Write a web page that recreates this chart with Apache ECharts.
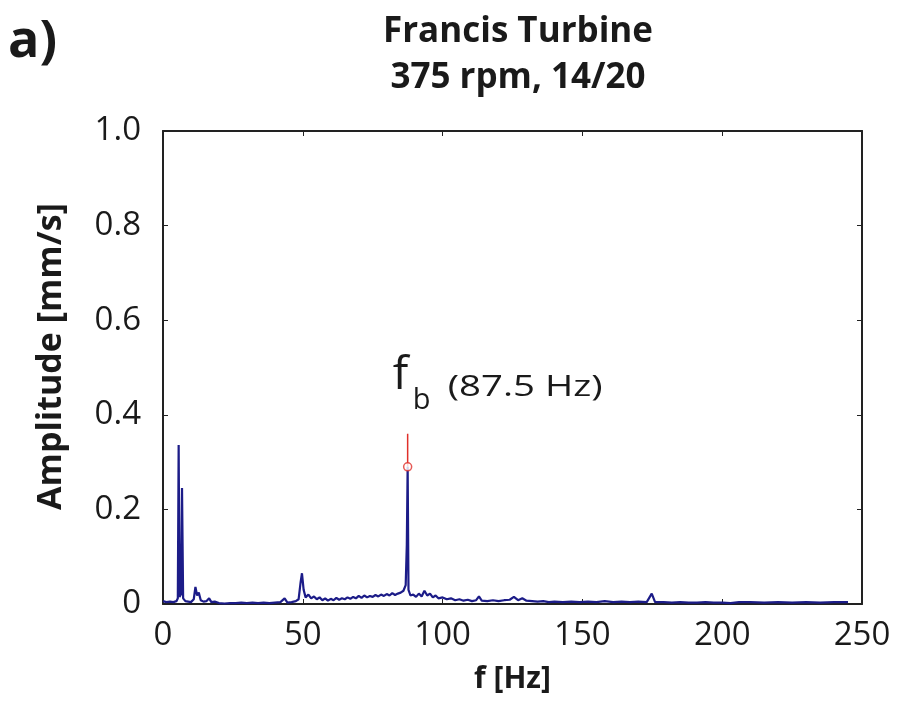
<!DOCTYPE html>
<html>
<head>
<meta charset="utf-8">
<script src="https://cdn.jsdelivr.net/npm/echarts@6/dist/echarts.min.js"></script>
<style>
  html, body { margin: 0; padding: 0; background: #fff; }
  #chart { width: 909px; height: 709px; }
</style>
</head>
<body>
<div id="chart"></div>
<script>
// spectrum
const freqs = [0, 1.2, 2.5, 3.7, 4.8, 5.3, 5.6, 5.9, 6.4, 6.8, 7.2, 8, 9, 10, 11, 11.6, 12.2, 12.8, 13.5, 14.5,
  15.5, 16.5, 17.3, 18.5, 20, 22, 24, 26, 28, 30, 32, 34, 36, 38, 40, 42, 43.5, 44.5, 46, 47.5,
  48.5, 49.2, 49.7, 50.3, 51, 52, 53, 54, 55, 56, 57, 58, 59, 60, 61, 62, 63, 64, 65, 66,
  67, 68, 69, 70, 71, 72, 73, 74, 75, 76, 77, 78, 79, 80, 81, 82, 83, 84, 85, 86,
  86.8, 87.2, 87.5, 87.8, 88.5, 89.5, 90.5, 91.5, 92.5, 93.5, 94.5, 95.5, 96.5, 97.5, 98.5, 100, 101.5, 103, 104.5, 106,
  107.5, 109, 110.5, 112, 113, 114, 116, 118, 120, 122, 124, 125.5, 127, 128.5, 130, 132, 134, 136, 138, 140,
  143, 146, 149, 152, 155, 158, 161, 164, 167, 170, 173, 174.8, 176, 179, 182, 185, 188, 191, 194, 197,
  200, 203, 206, 210, 215, 220, 225, 230, 235, 240, 245];
const amps = [0.006, 0.004, 0.005, 0.004, 0.006, 0.012, 0.336, 0.015, 0.020, 0.245, 0.012, 0.006, 0.005, 0.004, 0.010, 0.036, 0.018, 0.024, 0.008, 0.005,
  0.006, 0.012, 0.004, 0.005, 0.002, 0.001, 0.002, 0.002, 0.003, 0.002, 0.003, 0.002, 0.003, 0.002, 0.003, 0.004, 0.012, 0.003, 0.004, 0.006,
  0.010, 0.045, 0.065, 0.030, 0.014, 0.020, 0.012, 0.016, 0.010, 0.014, 0.008, 0.012, 0.007, 0.011, 0.008, 0.013, 0.009, 0.012, 0.010, 0.014,
  0.011, 0.015, 0.012, 0.017, 0.013, 0.018, 0.014, 0.017, 0.015, 0.019, 0.016, 0.020, 0.017, 0.021, 0.018, 0.023, 0.019, 0.022, 0.024, 0.028,
  0.040, 0.125, 0.290, 0.030, 0.018, 0.020, 0.015, 0.022, 0.016, 0.028, 0.018, 0.022, 0.014, 0.018, 0.012, 0.014, 0.010, 0.012, 0.008, 0.010,
  0.007, 0.009, 0.006, 0.008, 0.016, 0.007, 0.006, 0.008, 0.006, 0.008, 0.009, 0.015, 0.008, 0.012, 0.007, 0.006, 0.005, 0.006, 0.004, 0.005,
  0.004, 0.005, 0.004, 0.005, 0.004, 0.006, 0.004, 0.005, 0.004, 0.005, 0.004, 0.022, 0.004, 0.004, 0.003, 0.004, 0.003, 0.003, 0.004, 0.003,
  0.003, 0.002, 0.004, 0.004, 0.003, 0.004, 0.003, 0.004, 0.003, 0.004, 0.004];

// blade passing frequency marker
const fbFreq = 87.5;
const fbAmp = 0.29;
const fbStemTop = 0.36;
const fbText = '(87.5 Hz)';

const xTicks = [0, 50, 100, 150, 200, 250];
const yTicks = [0, 0.2, 0.4, 0.6, 0.8, 1.0];

const FONT = '"Open Sans", "Noto Sans", sans-serif';
const TXT = '#1a1a1a';
const lineColor = '#1c1c88';
const red = '#e0302a';

let myChart = echarts.init(document.getElementById('chart'));

const spectrum = freqs.map((f, i) => [f, amps[i]]);

const tickFmtY = v => (v === 0 ? '0' : v.toFixed(1));

const boxAxis = {
    axisLine: { show: true, onZero: false, lineStyle: { color: '#222', width: 2 } },
    axisTick: { show: true, inside: true, length: 5, lineStyle: { color: '#222' } },
    axisLabel: { show: false },
    splitLine: { show: false }
};

myChart.setOption({
    animation: false,
    title: {
        text: 'Francis Turbine\n375 rpm, 14/20',
        left: 513,
        top: 4,
        textAlign: 'center',
        textStyle: { fontFamily: FONT, fontWeight: 'bold', fontSize: 35, lineHeight: 46, color: TXT }
    },
    grid: { left: 163, right: 47, top: 131, bottom: 105, show: false },
    xAxis: [
        {
            type: 'value', min: xTicks[0], max: xTicks[xTicks.length - 1], interval: 50,
            name: 'f [Hz]', nameLocation: 'middle', nameGap: 60,
            nameTextStyle: { fontFamily: FONT, fontWeight: 'bold', fontSize: 30, color: TXT },
            axisLine: { show: true, onZero: false, lineStyle: { color: '#222', width: 2 } },
            axisTick: { inside: true, length: 5, lineStyle: { color: '#222' } },
            axisLabel: { fontFamily: FONT, fontSize: 33, color: TXT, margin: 15 },
            splitLine: { show: false }
        },
        Object.assign({ type: 'value', position: 'top', min: 0, max: 250, interval: 50 }, boxAxis)
    ],
    yAxis: [
        {
            type: 'value', min: yTicks[0], max: yTicks[yTicks.length - 1], interval: 0.2,
            name: 'Amplitude [mm/s]', nameLocation: 'middle', nameGap: 95,
            nameTextStyle: { fontFamily: FONT, fontWeight: 'bold', fontSize: 34, color: TXT, padding: [0, 0, 0, 22] },
            axisLine: { show: true, onZero: false, lineStyle: { color: '#222', width: 2 } },
            axisTick: { show: true, inside: true, length: 5, lineStyle: { color: '#222' } },
            axisLabel: { fontFamily: FONT, fontSize: 33, color: TXT, margin: 22, formatter: tickFmtY },
            splitLine: { show: false }
        },
        Object.assign({ type: 'value', position: 'right', min: 0, max: 1, interval: 0.2 }, boxAxis)
    ],
    series: [
        {
            name: 'spectrum',
            type: 'line',
            data: spectrum,
            symbol: 'none',
            lineStyle: { color: lineColor, width: 2.2 },
            z: 3
        },
        {
            name: 'fb stem',
            type: 'line',
            data: [[fbFreq, fbAmp], [fbFreq, fbStemTop]],
            symbol: 'none',
            lineStyle: { color: red, width: 1.5 },
            z: 4
        },
        {
            name: 'fb',
            type: 'scatter',
            data: [[fbFreq, fbAmp]],
            symbol: 'circle',
            symbolSize: 8,
            itemStyle: { color: '#fff', borderColor: red, borderWidth: 1.5 },
            z: 5
        }
    ]
});

// annotation placed above the stem top
const p = myChart.convertToPixel({ xAxisIndex: 0, yAxisIndex: 0 }, [fbFreq, fbStemTop]);
myChart.setOption({
    graphic: [
        {
            type: 'text', left: 8, top: 16,
            style: { text: 'a)', font: 'bold 52px ' + FONT, fill: TXT }
        },
        {
            type: 'text', x: p[0] - 15, y: p[1] - 58,
            style: { text: 'f', font: '46px ' + FONT, fill: TXT, align: 'left', verticalAlign: 'middle' }
        },
        {
            type: 'text', x: p[0] + 5, y: p[1] - 33,
            style: { text: 'b', font: '29px ' + FONT, fill: TXT, align: 'left', verticalAlign: 'middle' }
        },
        {
            type: 'text', x: p[0] + 40, y: p[1] - 46, scaleX: 1.28,
            style: { text: fbText, font: '30px ' + FONT, fill: TXT, align: 'left', verticalAlign: 'middle' }
        }
    ]
});
</script>
</body>
</html>
